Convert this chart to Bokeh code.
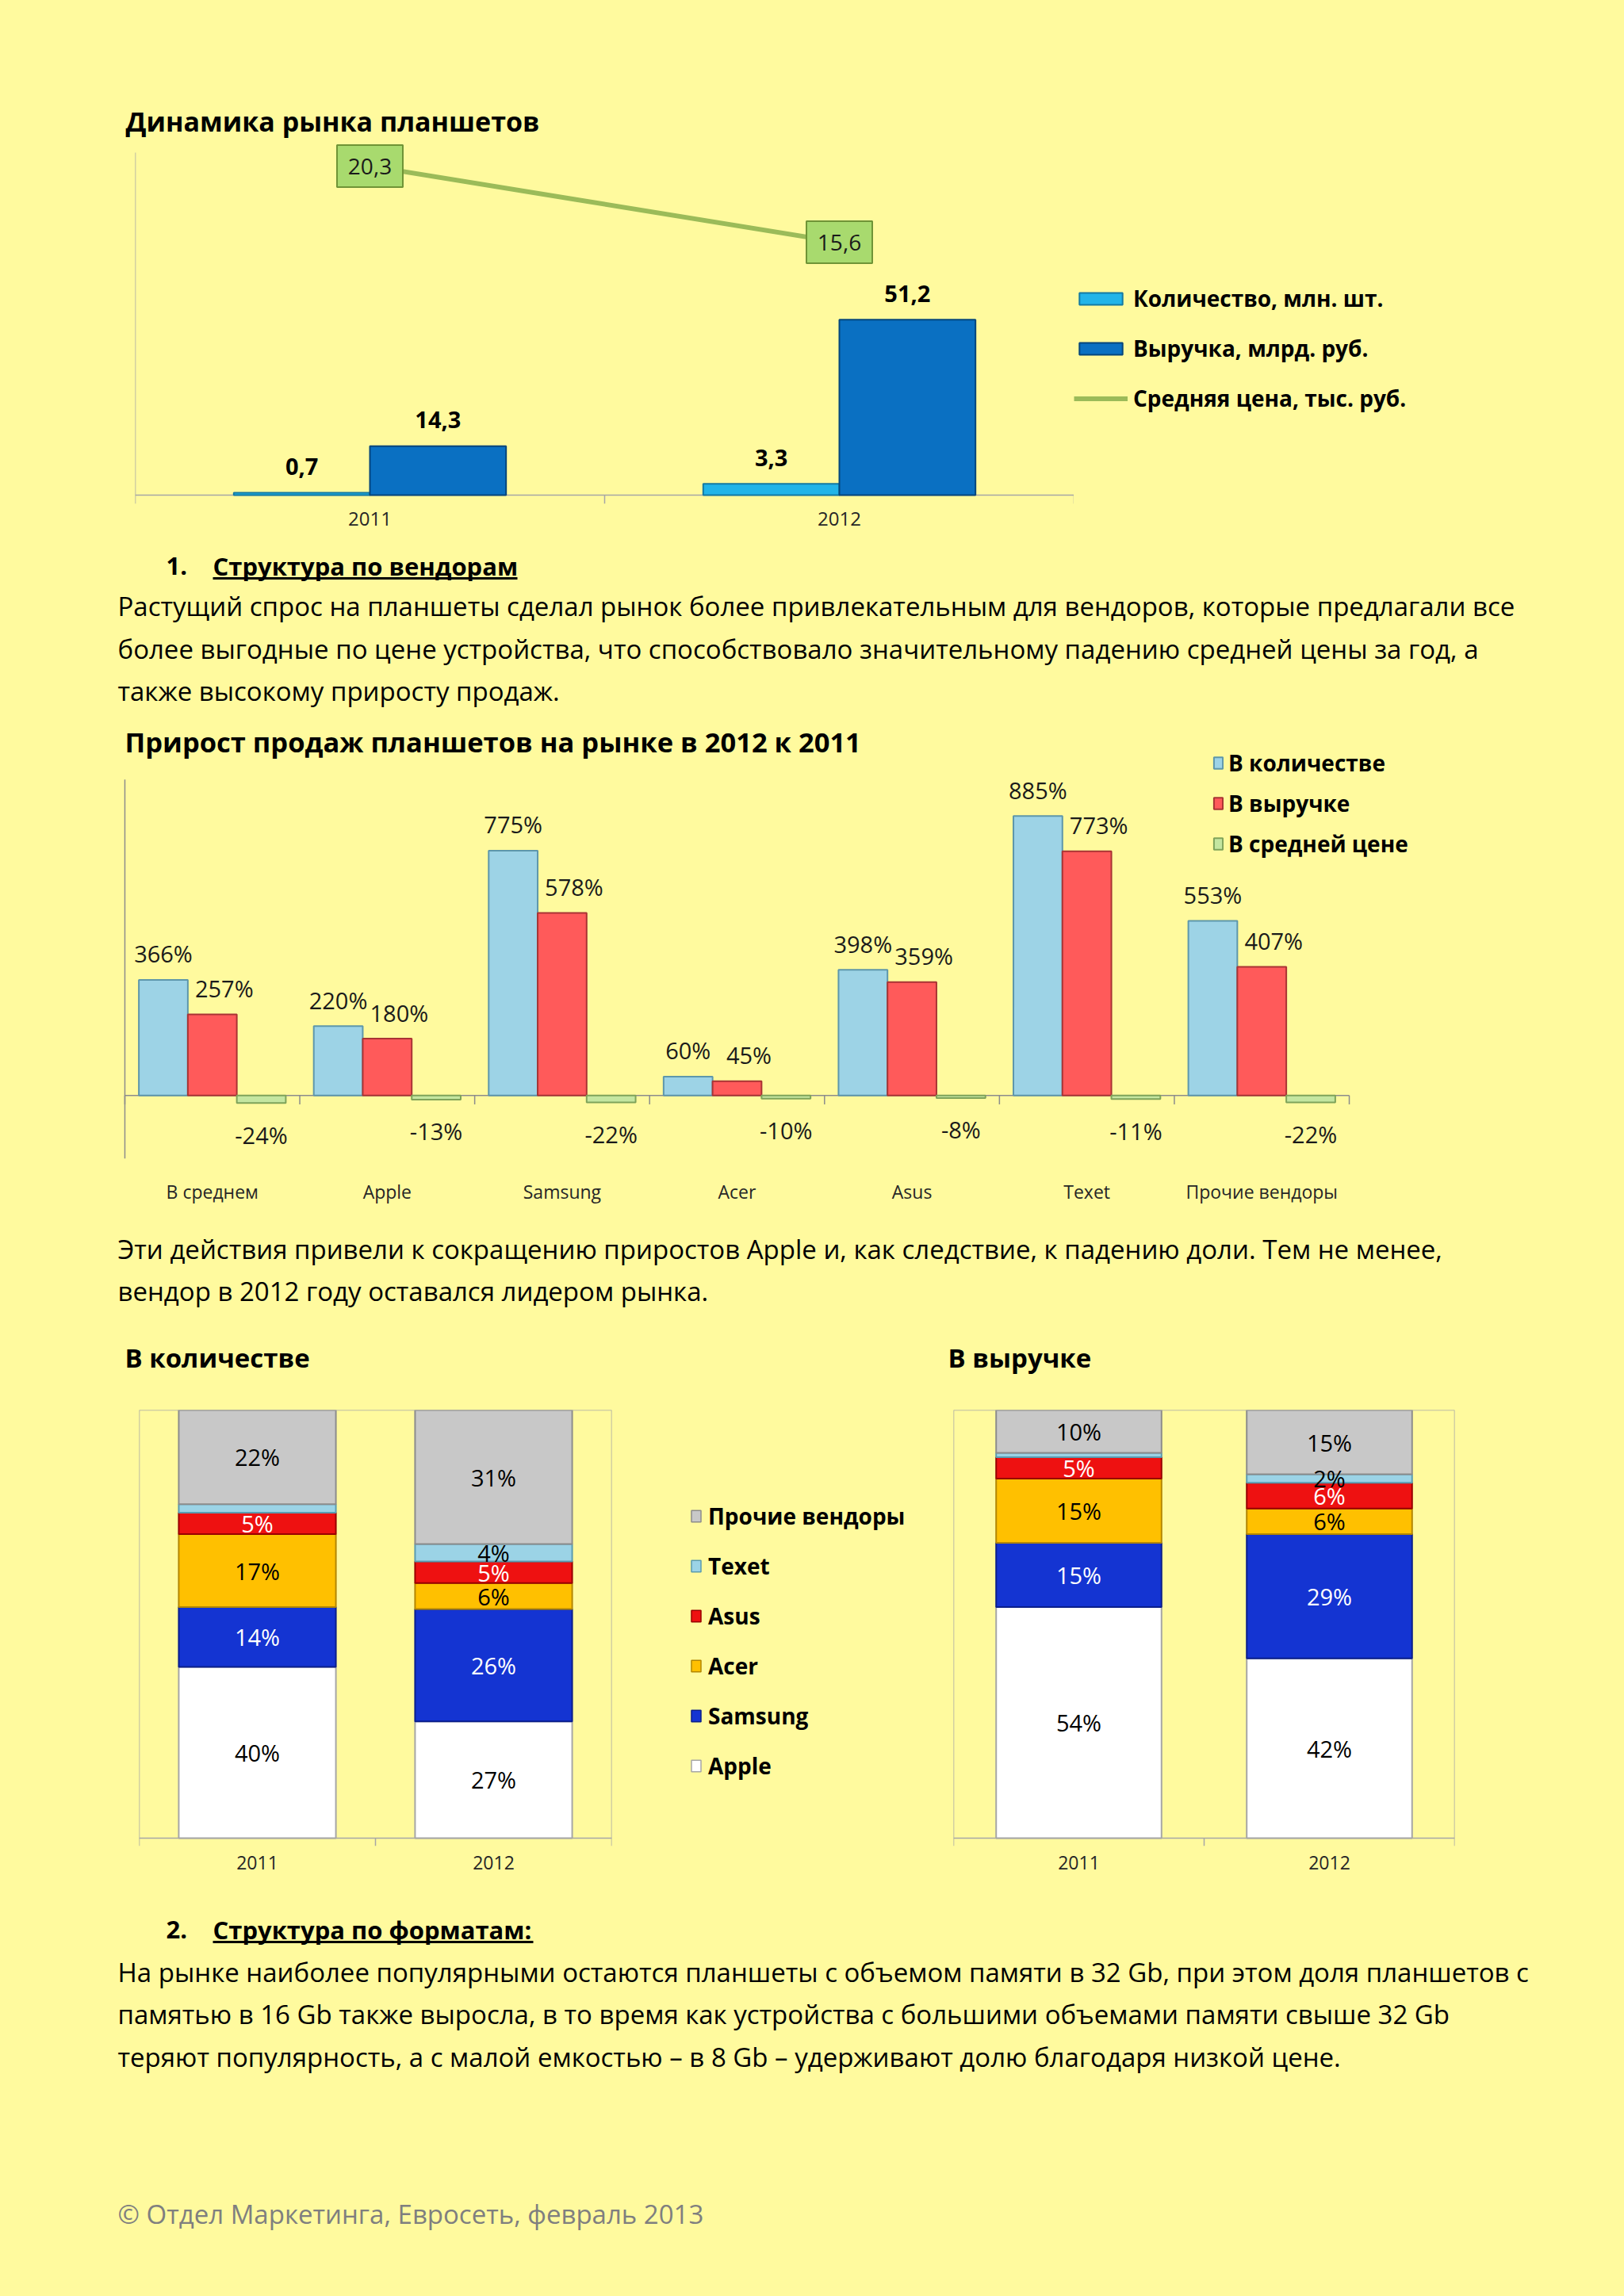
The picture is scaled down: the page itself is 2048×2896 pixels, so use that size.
from bokeh.plotting import figure
from bokeh.models import (Range1d, FactorRange, CategoricalAxis, Title, Label,
                          LabelSet, Legend, LegendItem, ColumnDataSource, Span)
from bokeh.layouts import column, row
from bokeh.transform import dodge
from bokeh.embed import file_html
from bokeh.resources import INLINE
from bokeh.core.properties import value, field

BG = "#FFFA9E"
FONT = "Open Sans"
W = 2048
NAN = float("nan")

# ---------------- data: chart 1 ----------------
years = ["2011", "2012"]
qty_mln = [0.7, 3.3]
revenue_bln = [14.3, 51.2]
avg_price_k = [20.3, 15.6]
legend1 = ["Количество, млн. шт.", "Выручка, млрд. руб.", "Средняя цена, тыс. руб."]
title1 = "Динамика рынка планшетов"

# ---------------- data: chart 2 ----------------
vendors = ["В среднем", "Apple", "Samsung", "Acer", "Asus", "Texet", "Прочие вендоры"]
growth_qty = [366, 220, 775, 60, 398, 885, 553]
growth_rev = [257, 180, 578, 45, 359, 773, 407]
growth_price = [-24, -13, -22, -10, -8, -11, -22]
legend2 = ["В количестве", "В выручке", "В средней цене"]
title2 = "Прирост продаж планшетов на рынке в 2012 к 2011"

# ---------------- data: stacked charts ----------------
share_years = ["2011", "2012"]
brands = ["Apple", "Samsung", "Acer", "Asus", "Texet", "Прочие вендоры"]
qty_apple = [40, 27]
qty_samsung = [14, 26]
qty_acer = [17, 6]
qty_asus = [5, 5]
qty_texet = [2, 4]
qty_other = [22, 31]
rev_apple = [54, 42]
rev_samsung = [15, 29]
rev_acer = [15, 6]
rev_asus = [5, 6]
rev_texet = [1, 2]
rev_other = [10, 15]
title3 = "В количестве"
title4 = "В выручке"

# ---------------- text ----------------
heading1 = ["1.", "Структура по вендорам"]
para1 = ["Растущий спрос на планшеты сделал рынок более привлекательным для вендоров, которые предлагали все",
         "более выгодные по цене устройства, что способствовало значительному падению средней цены за год, а",
         "также высокому приросту продаж."]
para2 = ["Эти действия привели к сокращению приростов Apple и, как следствие, к падению доли. Тем не менее,",
         "вендор в 2012 году оставался лидером рынка."]
heading2 = ["2.", "Структура по форматам:"]
para3 = ["На рынке наиболее популярными остаются планшеты с объемом памяти в 32 Gb, при этом доля планшетов с",
         "памятью в 16 Gb также выросла, в то время как устройства с большими объемами памяти свыше 32 Gb",
         "теряют популярность, а с малой емкостью – в 8 Gb – удерживают долю благодаря низкой цене."]
footer = "© Отдел Маркетинга, Евросеть, февраль 2013"

BODY_SIZE = "33px"
HEAD_SIZE = "31px"
AXIS_GRAY = "#A6A6A6"

C1_QTY = dict(fill_color="#22B4E8", line_color="#137AA3", line_width=2)
C1_REV = dict(fill_color="#0A70C2", line_color="#04467C", line_width=2)
C1_LINE = dict(line_color="#9BBB59", line_width=6)


def base_fig(width, height, x_range, y_range, left, right, top, bottom):
    p = figure(width=width, height=height, x_range=x_range, y_range=y_range,
               output_backend="svg", toolbar_location=None,
               x_axis_location=None, y_axis_location=None,
               min_border_left=left, min_border_right=right,
               min_border_top=top, min_border_bottom=bottom)
    if "frame_align" in p.properties():
        p.frame_align = False
    p.background_fill_color = BG
    p.border_fill_color = BG
    p.outline_line_color = None
    p.xgrid.visible = False
    p.ygrid.visible = False
    return p


def cat_axis(p, size, standoff):
    ax = CategoricalAxis(axis_line_color=None, major_tick_line_color=None,
                         major_tick_out=0, major_tick_in=0,
                         major_label_standoff=standoff,
                         major_label_text_font=FONT, major_label_text_font_size=size,
                         major_label_text_color="#262626")
    p.add_layout(ax, "below")


def frame_edges(p, cats, y_bot, left_top, right_top, color=AXIS_GRAY):
    """Category boundary ticks below the baseline, left/right vertical lines and the baseline."""
    n = len(cats)
    lsrc = ColumnDataSource(dict(c=[cats[0]], y0=[y_bot], y1=[left_top]))
    p.segment(x0=dodge("c", -0.5, range=p.x_range), x1=dodge("c", -0.5, range=p.x_range),
              y0="y0", y1="y1", source=lsrc, line_color=color, line_width=1.5)
    rsrc = ColumnDataSource(dict(c=list(cats), y0=[y_bot] * n, y1=[0] * (n - 1) + [right_top]))
    p.segment(x0=dodge("c", 0.5, range=p.x_range), x1=dodge("c", 0.5, range=p.x_range),
              y0="y0", y1="y1", source=rsrc, line_color=color, line_width=1.5)
    bsrc = ColumnDataSource(dict(a=[cats[0]], b=[cats[-1]], y=[0]))
    p.segment(x0=dodge("a", -0.5, range=p.x_range), x1=dodge("b", 0.5, range=p.x_range),
              y0="y", y1="y", source=bsrc, line_color=color, line_width=1.5)


def legend_kw(size, glyph_w, glyph_h, standoff, spacing):
    return dict(orientation="vertical", glyph_width=glyph_w, glyph_height=glyph_h,
                label_standoff=standoff, spacing=spacing, padding=0, margin=0,
                border_line_color=None, background_fill_alpha=0,
                label_text_font=FONT, label_text_font_size=size, label_text_font_style="bold",
                label_text_color="#000000", label_height=30)


def legend_fig(width, height, entries, location, kw):
    """A side figure that only carries a legend (keys styled like the chart's series)."""
    lf = base_fig(width, height, Range1d(0, 1), Range1d(0, 1), 0, 0, 0, 0)
    items = []
    for label, kind, style in entries:
        src = ColumnDataSource(dict(x=[NAN], y=[NAN]))
        if kind == "bar":
            r = lf.vbar(x="x", top="y", width=0.1, source=src, **style)
        else:
            r = lf.line(x="x", y="y", source=src, **style)
        items.append(LegendItem(label=label, renderers=[r]))
    lf.add_layout(Legend(items=items, location=location, **kw), "center")
    return lf


def text_band(height, texts):
    t = base_fig(W, height, Range1d(0, W), Range1d(height, 0), 0, 0, 0, 0)
    for xs, ys, txt, size, style, color in texts:
        t.text(x=xs, y=ys, text=txt, text_font=value(FONT), text_font_size=size,
               text_font_style=style, text_baseline="middle", text_color=color)
    return t


# =============== Chart 1 ===============
P1W = 1354
p1 = base_fig(P1W, 690, FactorRange(*years), Range1d(-2.55, 102.8), 170, 0, 180, 55)
p1.extra_y_ranges = {"price": Range1d(-0.538, 21.72)}
cat_axis(p1, "24px", 10)
frame_edges(p1, years, -2.55, 100, 0)

src1 = ColumnDataSource(dict(
    year=years, qty=qty_mln, rev=revenue_bln, price=avg_price_k,
    qty_lbl=[f"{v:.1f}".replace(".", ",") for v in qty_mln],
    rev_lbl=[f"{v:.1f}".replace(".", ",") for v in revenue_bln],
    price_lbl=[f"{v:.1f}".replace(".", ",") for v in avg_price_k]))

p1.vbar(x=dodge("year", -0.145, range=p1.x_range), top="qty", width=0.29, source=src1, **C1_QTY)
p1.vbar(x=dodge("year", 0.145, range=p1.x_range), top="rev", width=0.29, source=src1, **C1_REV)
p1.line(x="year", y="price", y_range_name="price", source=src1, **C1_LINE)
p1.rect(x="year", y="price", width=83, height=53, width_units="screen", height_units="screen",
        y_range_name="price", source=src1, fill_color="#A8DA6E", line_color="#6F9436", line_width=2)
p1.add_layout(LabelSet(x="year", y="price", y_range_name="price", text="price_lbl", source=src1,
                       text_font=value(FONT), text_font_size=value("28px"), text_color="#1A1A1A",
                       text_align="center", text_baseline="middle"))
for xo, yf, tf in [(-0.145, "qty", "qty_lbl"), (0.145, "rev", "rev_lbl")]:
    p1.add_layout(LabelSet(x=dodge("year", xo, range=p1.x_range), y=yf, text=tf, source=src1,
                           y_offset=33, text_font=value(FONT), text_font_size=value("29px"),
                           text_font_style="bold", text_color="#000000",
                           text_align="center", text_baseline="middle"))
p1.add_layout(Title(text=title1, align="left", offset=-12, standoff=10,
                    text_font=FONT, text_font_size="34px", text_font_style="bold",
                    text_color="#000000"), "above")

leg1 = legend_fig(W - P1W, 690,
                  [(legend1[0], "bar", C1_QTY), (legend1[1], "bar", C1_REV), (legend1[2], "line", C1_LINE)],
                  (0, 169), legend_kw("28px", 68, 19, 7, 25))

# =============== Text band B ===============
tB = text_band(210, [
    ([209, 268], [23, 23], heading1, HEAD_SIZE, "bold", "#000000"),
    ([148] * 3, [74, 127.5, 181], para1, BODY_SIZE, "normal", "#000000"),
])
tB.segment(x0=[268], y0=[39], x1=[652], y1=[39], line_color="#000000", line_width=3)

# =============== Chart 2 ===============
PAD2 = 0.426
p2 = base_fig(W, 630, FactorRange(*vendors, range_padding=PAD2, range_padding_units="absolute"),
              Range1d(-200, 1182.7), 63, 253, 10, 69)
cat_axis(p2, "23px", 25)
src2 = ColumnDataSource(dict(
    vendor=vendors, q=growth_qty, r=growth_rev, pr=growth_price,
    ql=[f"{v}%" for v in growth_qty], rl=[f"{v}%" for v in growth_rev],
    pl=[f"{v}%" for v in growth_price]))
frame_edges(p2, vendors, -28, 1000, 0, "#8C8C8C")
lax = ColumnDataSource(dict(c=[vendors[0]], y0=[-200], y1=[0]))
p2.segment(x0=dodge("c", -0.5, range=p2.x_range), x1=dodge("c", -0.5, range=p2.x_range),
           y0="y0", y1="y1", source=lax, line_color="#8C8C8C", line_width=1.5)
b_q = p2.vbar(x=dodge("vendor", -0.28, range=p2.x_range), top="q", width=0.28, source=src2,
              fill_color="#9DD3E6", line_color="#5E97AB", line_width=2)
b_r = p2.vbar(x=dodge("vendor", 0.0, range=p2.x_range), top="r", width=0.28, source=src2,
              fill_color="#FF5A5A", line_color="#A93434", line_width=2)
b_p = p2.vbar(x=dodge("vendor", 0.28, range=p2.x_range), top="pr", width=0.28, source=src2,
              fill_color="#C4E6A0", line_color="#7FA35A", line_width=2)
for xo, yf, tf, xoff, yoff in [(-0.28, "q", "ql", 0, 33), (0.0, "r", "rl", 15, 33), (0.28, "pr", "pl", 0, -40)]:
    p2.add_layout(LabelSet(x=dodge("vendor", xo, range=p2.x_range), y=yf, text=tf, source=src2,
                           x_offset=xoff, y_offset=yoff, text_font=value(FONT),
                           text_font_size=value("29px"), text_color="#1A1A1A",
                           text_align="center", text_baseline="middle"))
leg2 = Legend(items=[LegendItem(label=legend2[0], renderers=[b_q]),
                     LegendItem(label=legend2[1], renderers=[b_r]),
                     LegendItem(label=legend2[2], renderers=[b_p])],
              location=(1466, 378), **legend_kw("28px", 14, 18, 6, 13))
p2.add_layout(leg2, "center")
p2.add_layout(Label(x=94, y=526, x_units="screen", y_units="screen", text=title2,
                    text_font=FONT, text_font_size="34.5px", text_font_style="bold",
                    text_baseline="middle", text_align="left", text_color="#000000"))

# =============== Text band D (paragraph + titles of the two share charts) ===============
BAND_D = 218
tD = text_band(BAND_D, [
    ([148] * 2, [45, 98], para2, BODY_SIZE, "normal", "#000000"),
    ([157, 1195], [182, 182], [title3, title4], "33px", "bold", "#000000"),
])

# =============== Stacked charts ===============
fills = ["#FFFFFF", "#1434D2", "#FFC000", "#EE1111", "#9BD3E6", "#C8C8C8"]
edges = ["#A6A6A6", "#0A1E8C", "#B38600", "#990000", "#5A9BB0", "#8C8C8C"]
label_cols = ["#000000", "#FFFFFF", "#000000", "#FFFFFF", "#000000", "#000000"]
ROW_TOP = 1530 + BAND_D
ROW_H = 2390 - ROW_TOP
FRAME_TOP = 1778 - ROW_TOP


def stacked(width, left, right, series, bar_width):
    p = base_fig(width, ROW_H, FactorRange(*share_years), Range1d(-1.85, 100), left, right, FRAME_TOP, 62)
    cat_axis(p, "23px", 12)
    frame_edges(p, share_years, -1.85, 100, 100)
    p.add_layout(Span(location=100, dimension="width", line_color=AXIS_GRAY, line_width=1.5))
    totals = [sum(s[i] for s in series) for i in range(len(share_years))]
    data = {"year": share_years}
    for b, s in zip(brands, series):
        data[b] = [v * 100.0 / t for v, t in zip(s, totals)]
    src = ColumnDataSource(data)
    p.vbar_stack(brands, x="year", width=bar_width, source=src,
                 fill_color=fills, line_color=edges, line_width=2)
    lx, ly, lt, lc = [], [], [], []
    for i, yr in enumerate(share_years):
        cum = 0.0
        for j, (b, s) in enumerate(zip(brands, series)):
            h = s[i] * 100.0 / totals[i]
            if not (b == "Texet" and yr == "2011"):
                lx.append(yr)
                ly.append(cum + h / 2)
                lt.append(f"{s[i]}%")
                lc.append(label_cols[j])
            cum += h
    lsrc = ColumnDataSource(dict(x=lx, y=ly, t=lt, c=lc))
    p.add_layout(LabelSet(x="x", y="y", text="t", source=lsrc, text_color=field("c"),
                          text_font=value(FONT), text_font_size=value("29px"),
                          text_align="center", text_baseline="middle"))
    return p


P3W, LGW = 800, 370
p3 = stacked(P3W, 175, P3W - 771, [qty_apple, qty_samsung, qty_acer, qty_asus, qty_texet, qty_other], 0.665)
leg3 = legend_fig(LGW, ROW_H,
                  [(b, "bar", dict(fill_color=f, line_color=e, line_width=1.5))
                   for b, f, e in zip(brands, fills, edges)][::-1],
                  (870 - P3W, 144), legend_kw("28px", 15, 18, 8, 25))
p4 = stacked(W - P3W - LGW, 32, 214, [rev_apple, rev_samsung, rev_acer, rev_asus, rev_texet, rev_other], 0.66)

# =============== Text band F ===============
tF = text_band(506, [
    ([209, 268], [43, 43], heading2, HEAD_SIZE, "bold", "#000000"),
    ([148] * 3, [97, 150, 204], para3, BODY_SIZE, "normal", "#000000"),
    ([148], [402], [footer], "33px", "normal", "#7F7F7F"),
])
tF.segment(x0=[268], y0=[59], x1=[672], y1=[59], line_color="#000000", line_width=3)

layout = column(row(p1, leg1), tB, p2, tD, row(p3, leg3, p4), tF)
html = file_html(layout, INLINE, title="Рынок планшетов")
html = html.replace("</head>", "<style>html, body {background-color: #FFFA9E; margin: 0; padding: 0;}</style></head>", 1)
open("out.html", "w").write(html)
